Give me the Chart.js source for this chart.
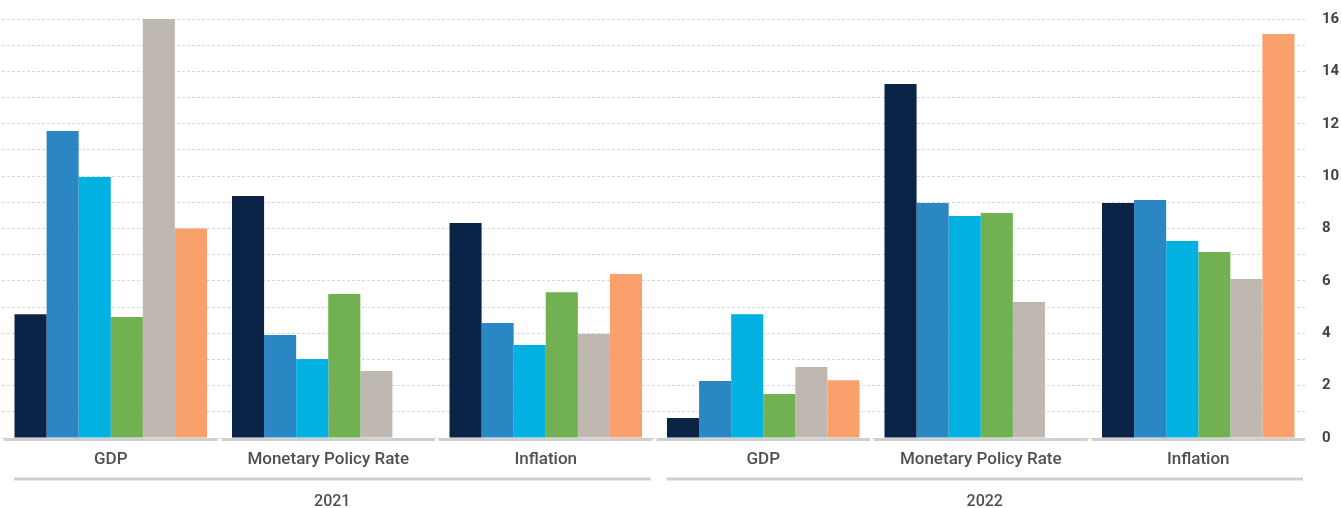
<!DOCTYPE html>
<html>
<head>
<meta charset="utf-8">
<script src="https://cdn.jsdelivr.net/npm/chart.js@4"></script>
<style>
  html, body { margin: 0; padding: 0; background: #fff; }
  .chart-wrapper { width: 1341px; height: 508px; }
</style>
</head>
<body>
<div class="chart-wrapper">
  <canvas id="ratesChart"></canvas>
</div>
<script>
// values
const categories = ['GDP', 'Monetary Policy Rate', 'Inflation', 'GDP', 'Monetary Policy Rate', 'Inflation'];
const years = ['2021', '2022'];
const yearSpan = [[0, 2], [3, 5]]; // first/last category index per year

const seriesA = [4.73, 9.24, 8.21, 0.76, 13.52, 8.97];
const seriesB = [11.72, 3.93, 4.39, 2.18, 8.97, 9.09];
const seriesC = [9.97, 3.02, 3.55, 4.73, 8.48, 7.52];
const seriesD = [4.62, 5.50, 5.57, 1.68, 8.59, 7.10];
const seriesE = [16.0, 2.56, 3.97, 2.71, 5.19, 6.07];
const seriesF = [8.0, null, 6.26, 2.21, null, 15.43];

const yTicks = [0, 2, 4, 6, 8, 10, 12, 14, 16];

const colors = ['#0B2347', '#2A87C4', '#00B1E2', '#72B152', '#BFB8B1', '#F9A06D'];
const allSeries = [seriesA, seriesB, seriesC, seriesD, seriesE, seriesF];
const names = ['Series A', 'Series B', 'Series C', 'Series D', 'Series E', 'Series F'];

const labelColor = '#505050';
const lineColor = '#cfcfcf';

// draws baseline segments per category, and the year rows underneath
const yearGroups = {
  id: 'yearGroups',
  afterDraw(chart) {
    const { ctx, scales: { x, y } } = chart;
    const catW = x.width / categories.length;
    const base = y.getPixelForValue(0);
    ctx.save();
    ctx.strokeStyle = lineColor;
    ctx.lineWidth = 3;
    categories.forEach((c, i) => {
      const mid = x.getPixelForValue(i);
      ctx.beginPath();
      ctx.moveTo(mid - catW / 2 + 2, base + 1.5);
      ctx.lineTo(mid + catW / 2 - 2, base + 1.5);
      ctx.stroke();
    });
    years.forEach((yr, k) => {
      const l = x.getPixelForValue(yearSpan[k][0]) - catW / 2 + 12;
      const r = x.getPixelForValue(yearSpan[k][1]) + catW / 2 - 4;
      ctx.beginPath();
      ctx.strokeStyle = lineColor;
      ctx.lineWidth = 3;
      ctx.moveTo(l, 479);
      ctx.lineTo(r, 479);
      ctx.stroke();
      ctx.fillStyle = labelColor;
      ctx.font = '500 16px Roboto';
      ctx.textAlign = 'center';
      ctx.textBaseline = 'middle';
      ctx.fillText(yr, (l + r) / 2, 502);
    });
    ctx.restore();
  }
};

new Chart(document.getElementById('ratesChart'), {
  type: 'bar',
  data: {
    labels: categories,
    datasets: allSeries.map((s, i) => ({
      label: names[i],
      data: s,
      backgroundColor: colors[i],
      borderWidth: 0,
      barPercentage: 1.0,
      categoryPercentage: 0.885,
    })),
  },
  options: {
    responsive: true,
    maintainAspectRatio: false,
    animation: false,
    layout: { padding: { left: 2, right: 2, top: 19, bottom: 0 } },
    plugins: {
      legend: { display: false },
      tooltip: { enabled: false },
    },
    scales: {
      x: {
        grid: { display: false, drawTicks: false },
        border: { display: false },
        ticks: {
          color: labelColor,
          padding: 12,
          font: { family: 'Roboto', size: 17, weight: '500' },
        },
        afterFit(scale) {
          scale.height = 70;
        },
      },
      y: {
        position: 'right',
        min: 0,
        max: 16,
        grid: {
          color: '#d8d8d8',
          lineWidth: 1,
          drawTicks: false,
        },
        border: { display: false, dash: [3, 2] },
        ticks: {
          stepSize: 1,
          padding: 15,
          color: '#444444',
          font: { family: 'Roboto', size: 15, weight: 'bold' },
          callback: (v) => (yTicks.includes(v) ? v : ''),
        },
        afterFit(scale) {
          scale.width = 32;
          scale.paddingTop = 0;
          scale.paddingBottom = 0;
        },
      },
    },
  },
  plugins: [yearGroups],
});
</script>
</body>
</html>
